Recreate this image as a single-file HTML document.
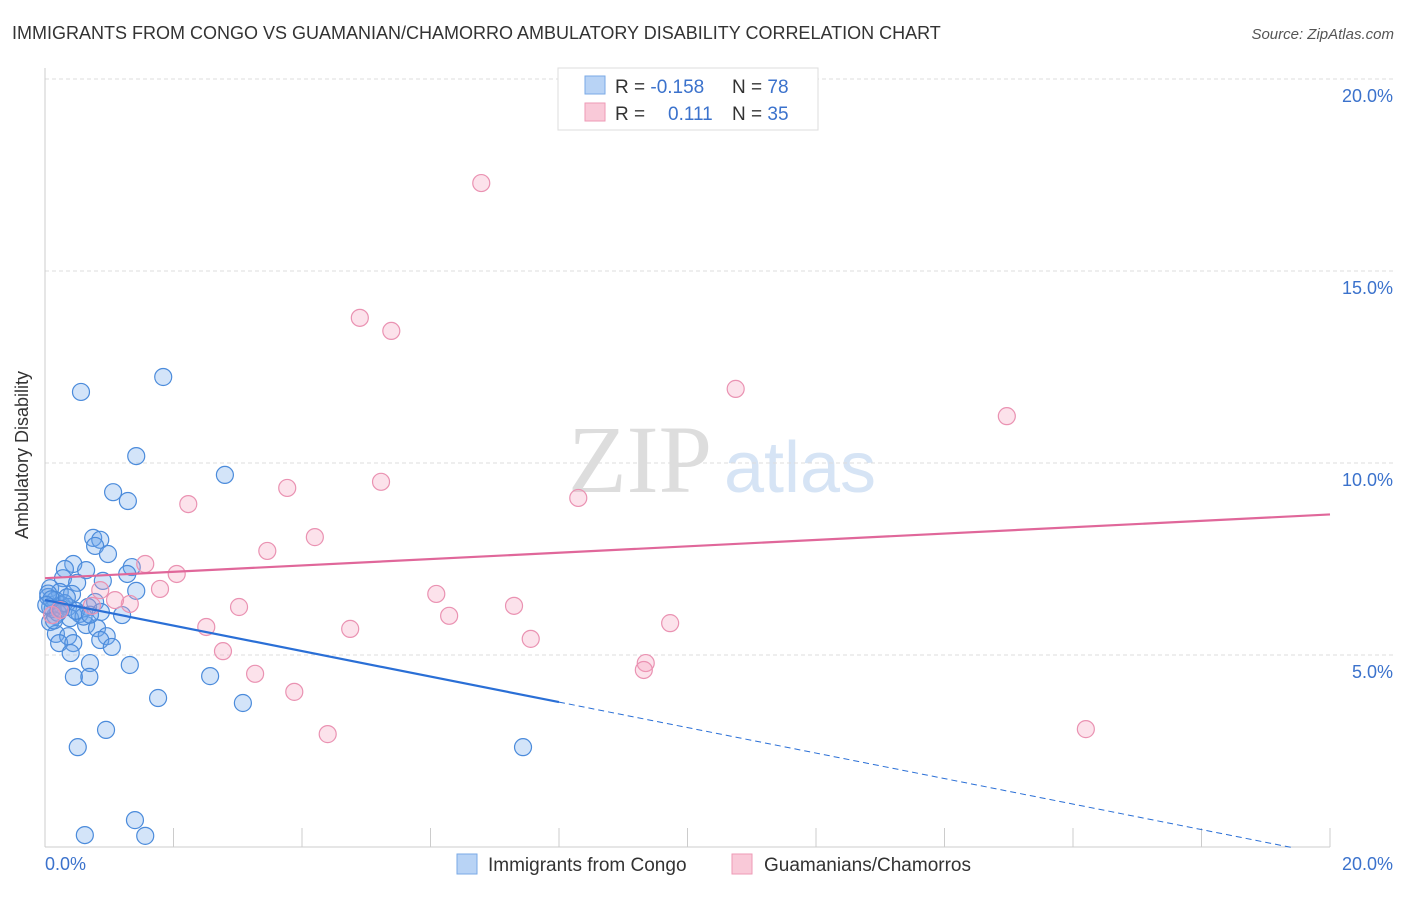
<!DOCTYPE html>
<html><head><meta charset="utf-8"><style>
body{margin:0;background:#fff;font-family:"Liberation Sans",sans-serif}
</style></head><body>
<svg width="1406" height="892" xmlns="http://www.w3.org/2000/svg" id="svg">
<text x="12" y="39" font-size="18" fill="#333">IMMIGRANTS FROM CONGO VS GUAMANIAN/CHAMORRO AMBULATORY DISABILITY CORRELATION CHART</text>
<text x="1394" y="39" font-size="15" fill="#555" font-style="italic" text-anchor="end">Source: ZipAtlas.com</text>
<text x="640" y="492" font-size="96" fill="#ddd" font-family="Liberation Serif" text-anchor="middle">ZIP</text>
<text x="800" y="492" font-size="72" fill="#d6e4f5" text-anchor="middle">atlas</text>
<g id="grid"></g>
<line x1="45" y1="68" x2="45" y2="847" stroke="#ccc"/>
<line x1="45" y1="847" x2="1330" y2="847" stroke="#ccc"/>
<g id="ticks"></g>
<text x="28" y="455" font-size="18" fill="#333" text-anchor="middle" transform="rotate(-90 28 455)">Ambulatory Disability</text>
<text x="45" y="870" font-size="18" fill="#3b72cc">0.0%</text>
<text x="1393" y="870" font-size="18" fill="#3b72cc" text-anchor="end">20.0%</text>
<g id="pts"></g>
<g id="lines"></g>
<g>
<rect x="558" y="68" width="260" height="62" fill="#fff" stroke="#ddd"/>
<rect x="585" y="76" width="20" height="18" fill="#b8d3f5" stroke="#7aaae6"/>
<rect x="585" y="103" width="20" height="18" fill="#f9c9d8" stroke="#ee9ab6"/>
<text x="615" y="93" font-size="19" fill="#333">R = <tspan fill="#3b72cc">-0.158</tspan><tspan x="732">N = </tspan><tspan fill="#3b72cc">78</tspan></text>
<text x="615" y="120" font-size="19" fill="#333">R = <tspan x="668" fill="#3b72cc">0.111</tspan><tspan x="732">N = </tspan><tspan fill="#3b72cc">35</tspan></text>
</g>
<g>
<rect x="457" y="854" width="20" height="20" fill="#b8d3f5" stroke="#7aaae6"/>
<text x="488" y="871" font-size="19" fill="#333">Immigrants from Congo</text>
<rect x="732" y="854" width="20" height="20" fill="#f9c9d8" stroke="#ee9ab6"/>
<text x="764" y="871" font-size="19" fill="#333">Guamanians/Chamorros</text>
</g>
</svg>
<script>
const yTicks=[5,10,15,20];
const yTickLabels=["5.0%","10.0%","15.0%","20.0%"];
const xTicks=[2,4,6,8,10,12,14,16,18,20];
const blueX=[0.56,1.84,1.42,2.80,1.06,1.29,0.75,0.86,0.78,0.98,0.44,0.31,0.64,1.35,1.28,0.28,0.50,0.90,0.08,0.23,0.42,1.42,0.05,0.16,0.78,0.26,0.08,0.36,0.67,0.87,0.54,1.20,0.16,0.39,0.08,0.64,0.81,0.17,0.36,0.96,0.86,1.04,0.22,0.44,0.40,0.70,1.32,0.45,0.69,2.57,1.76,3.08,0.95,0.51,7.44,1.40,0.62,1.56,0.05,0.12,0.20,0.30,0.10,0.60,0.48,0.02,0.14,0.34,0.70,0.25];
const blueY=[11.85,12.24,10.18,9.69,9.24,9.01,8.05,8.0,7.84,7.63,7.37,7.24,7.21,7.29,7.11,7.0,6.88,6.93,6.74,6.64,6.59,6.67,6.51,6.43,6.38,6.30,6.25,6.25,6.25,6.12,6.07,6.04,6.02,5.96,5.86,5.78,5.70,5.55,5.49,5.49,5.39,5.21,5.31,5.31,5.05,4.79,4.74,4.43,4.43,4.45,3.88,3.75,3.05,2.60,2.60,0.70,0.31,0.29,6.6,6.2,6.1,6.35,6.45,6.0,6.15,6.3,5.9,6.5,6.05,6.2];
const pinkX=[6.79,4.90,5.39,10.75,14.97,5.23,3.77,8.30,2.23,4.20,3.46,1.56,2.05,1.79,6.09,1.32,3.02,7.30,6.29,9.73,2.51,4.75,7.56,2.77,9.35,9.32,3.27,3.88,4.40,16.2,1.09,0.73,0.23,0.11,0.86];
const pinkY=[17.29,13.78,13.44,11.93,11.22,9.51,9.35,9.09,8.93,8.07,7.71,7.37,7.11,6.72,6.59,6.33,6.25,6.28,6.02,5.83,5.73,5.68,5.42,5.10,4.79,4.61,4.51,4.04,2.94,3.07,6.43,6.28,6.17,6.04,6.69];
const blueFit=[6.43,-0.332];
const pinkFit=[7.0,0.083];
const X=v=>45+v*64.25, Y=v=>847-v*38.4;
const NS="http://www.w3.org/2000/svg";
function mk(t,a,p){const e=document.createElementNS(NS,t);for(const k in a)e.setAttribute(k,a[k]);document.getElementById(p).appendChild(e);return e;}
yTicks.forEach((t,i)=>{
 const l=mk('line',{x1:45,x2:1393,y1:Y(t),y2:Y(t),stroke:'#ddd','stroke-dasharray':'4,3'},'grid');
 
 
 const tx=mk('text',{x:1393,y:Y(t)+23,'font-size':18,fill:'#3b72cc','text-anchor':'end'},'grid');
 tx.textContent=yTickLabels[i];
 
 
});
xTicks.forEach(t=>{
 const l=mk('line',{x1:X(t),x2:X(t),y1:828,y2:847,stroke:'#ccc'},'ticks');
 
 
});
blueX.forEach((v,i)=>{
 const c=mk('circle',{cx:X(v),cy:Y(blueY[i]),r:8.5,fill:'rgba(110,165,235,0.3)',stroke:'#4b8bdb','stroke-width':1.2},'pts');
 
 
});
pinkX.forEach((v,i)=>{
 const c=mk('circle',{cx:X(v),cy:Y(pinkY[i]),r:8.5,fill:'rgba(245,160,190,0.3)',stroke:'#ea92b2','stroke-width':1.2},'pts');
 
 
});
const bf=x=>blueFit[0]+blueFit[1]*x, pf=x=>pinkFit[0]+pinkFit[1]*x;
let l=mk('line',{x1:X(0),y1:Y(bf(0)),x2:X(8),y2:Y(bf(8)),stroke:'#2a6fd6','stroke-width':2.2},'lines');


l=mk('line',{x1:X(8),y1:Y(bf(8)),x2:X(19.4),y2:Y(bf(19.4)),stroke:'#2a6fd6','stroke-width':1,'stroke-dasharray':'6,4'},'lines');


l=mk('line',{x1:X(0),y1:Y(pf(0)),x2:X(20),y2:Y(pf(20)),stroke:'#e0679a','stroke-width':2.2},'lines');


</script>
</body></html>
